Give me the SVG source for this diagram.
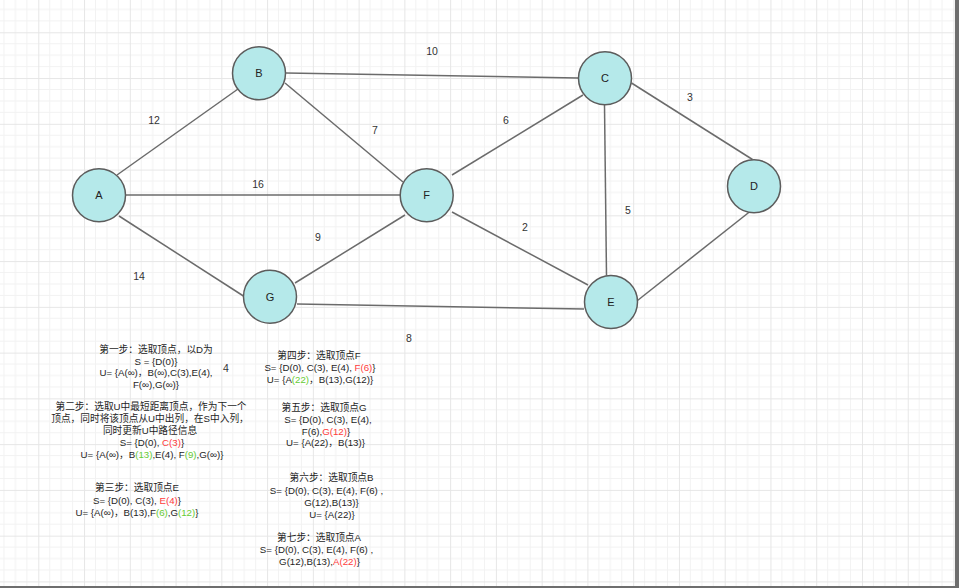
<svg xmlns="http://www.w3.org/2000/svg" width="959" height="588" viewBox="0 0 959 588">
<defs>
<pattern id="grid" patternUnits="userSpaceOnUse" x="38.3" y="32.3" width="45.76" height="45.76">
<path d="M11.44 0V45.76M22.88 0V45.76M34.32 0V45.76M0 11.44H45.76M0 22.88H45.76M0 34.32H45.76" stroke="#f2f2f2" stroke-width="1" fill="none"/>
<path d="M0.5 0V45.76M0 0.5H45.76" stroke="#e6e6e6" stroke-width="1" fill="none"/>
</pattern>
<style>
.node circle{fill:#b5e9ea;stroke:#5c5c5c;stroke-width:1.5}
.node text{font-family:"Liberation Sans","Noto Sans CJK SC",sans-serif;font-size:11px;fill:#222;text-anchor:middle}
.edges line{stroke:#6b6b6b;stroke-width:1.5}
.lbl{font-family:"Liberation Sans","Noto Sans CJK SC",sans-serif;font-size:10.5px;fill:#333;text-anchor:middle}
.note{font-family:"Liberation Sans","Noto Sans CJK SC",sans-serif;font-size:9.7px;fill:#1e1e1e;text-anchor:middle}
.r{fill:#ff3b3b}
.g{fill:#66cc33}
</style>
</defs>
<rect width="959" height="588" fill="#ffffff"/>
<rect width="959" height="588" fill="url(#grid)"/>
<rect x="955" y="0" width="4" height="588" fill="#6e6e6e"/>
<rect x="0" y="586" width="959" height="2" fill="#6e6e6e"/>

<g id="connectors" class="edges">
<line x1="117" y1="175" x2="238" y2="89"/>
<line x1="126" y1="195" x2="400" y2="195"/>
<line x1="119" y1="216" x2="245" y2="297"/>
<line x1="286" y1="73" x2="578" y2="78"/>
<line x1="285" y1="83" x2="403" y2="182"/>
<line x1="295" y1="283" x2="405" y2="215"/>
<line x1="297" y1="304" x2="584" y2="309"/>
<line x1="452" y1="175" x2="583" y2="95"/>
<line x1="452" y1="212" x2="588" y2="285"/>
<line x1="604.5" y1="105" x2="606.5" y2="275.5"/>
<line x1="631.5" y1="83" x2="752.5" y2="159.5"/>
<line x1="750" y1="211.5" x2="637.5" y2="300.5"/>
</g>

<g id="edge-labels">
<text class="lbl" x="432" y="55">10</text>
<text class="lbl" x="154" y="124">12</text>
<text class="lbl" x="375" y="134">7</text>
<text class="lbl" x="506" y="124">6</text>
<text class="lbl" x="690" y="101">3</text>
<text class="lbl" x="258" y="188">16</text>
<text class="lbl" x="628" y="214">5</text>
<text class="lbl" x="525" y="231">2</text>
<text class="lbl" x="318" y="241">9</text>
<text class="lbl" x="139" y="280">14</text>
<text class="lbl" x="409" y="342">8</text>
<text class="lbl" x="226" y="372">4</text>
</g>

<g id="node-A" class="node"><circle cx="99" cy="195.3" r="26.5"/><text x="99" y="199.3">A</text></g>
<g id="node-B" class="node"><circle cx="259" cy="73.3" r="26.5"/><text x="259" y="77.3">B</text></g>
<g id="node-C" class="node"><circle cx="605" cy="78.3" r="26.5"/><text x="605" y="82.3">C</text></g>
<g id="node-D" class="node"><circle cx="754" cy="186.3" r="26.5"/><text x="754" y="190.3">D</text></g>
<g id="node-E" class="node"><circle cx="611" cy="302" r="26.5"/><text x="611" y="306">E</text></g>
<g id="node-F" class="node"><circle cx="426.7" cy="195.3" r="26.5"/><text x="426.7" y="199.3">F</text></g>
<g id="node-G" class="node"><circle cx="270" cy="296.7" r="26.5"/><text x="270" y="300.7">G</text></g>

<g id="step1" class="note">
<text x="156" y="352.5">第一步：选取顶点，以D为</text>
<text x="156" y="364.5">S = {D(0)}</text>
<text x="156" y="376">U= {A(∞)，B(∞),C(3),E(4),</text>
<text x="156" y="388">F(∞),G(∞)}</text>
</g>
<g id="step2" class="note">
<text x="151" y="410">第二步：选取U中最短距离顶点，作为下一个</text>
<text x="150" y="422">顶点，同时将该顶点从U中出列，在S中入列，</text>
<text x="150" y="433.5">同时更新U中路径信息</text>
<text x="152" y="445.5">S= {D(0), <tspan class="r">C(3)</tspan>}</text>
<text x="152" y="457.5">U= {A(∞)，B<tspan class="g">(13)</tspan>,E(4), F<tspan class="g">(9)</tspan>,G(∞)}</text>
</g>
<g id="step3" class="note">
<text x="137" y="491">第三步：选取顶点E</text>
<text x="137" y="503.5">S= {D(0), C(3), <tspan class="r">E(4)</tspan>}</text>
<text x="137" y="516">U= {A(∞)，B(13),F<tspan class="g">(6)</tspan>,G<tspan class="g">(12)</tspan>}</text>
</g>
<g id="step4" class="note">
<text x="319" y="359">第四步：选取顶点F</text>
<text x="320" y="371">S= {D(0), C(3), E(4), <tspan class="r">F(6)</tspan>}</text>
<text x="320" y="383">U= {A<tspan class="g">(22)</tspan>，B(13),G(12)}</text>
</g>
<g id="step5" class="note">
<text x="324" y="411">第五步：选取顶点G</text>
<text x="328" y="423">S= {D(0), C(3), E(4),</text>
<text x="326" y="434.5">F(6),<tspan class="r">G(12)</tspan>}</text>
<text x="325.5" y="446">U= {A(22)，B(13)}</text>
</g>
<g id="step6" class="note">
<text x="331.5" y="480.5">第六步：选取顶点B</text>
<text x="326.5" y="493.5">S= {D(0), C(3), E(4), F(6) ,</text>
<text x="331.5" y="506">G(12),B(13)}</text>
<text x="332" y="518">U= {A(22)}</text>
</g>
<g id="step7" class="note">
<text x="319" y="541">第七步：选取顶点A</text>
<text x="316.5" y="553">S= {D(0), C(3), E(4), F(6) ,</text>
<text x="319.5" y="564.5">G(12),B(13),<tspan class="r">A(22)</tspan>}</text>
</g>
</svg>
